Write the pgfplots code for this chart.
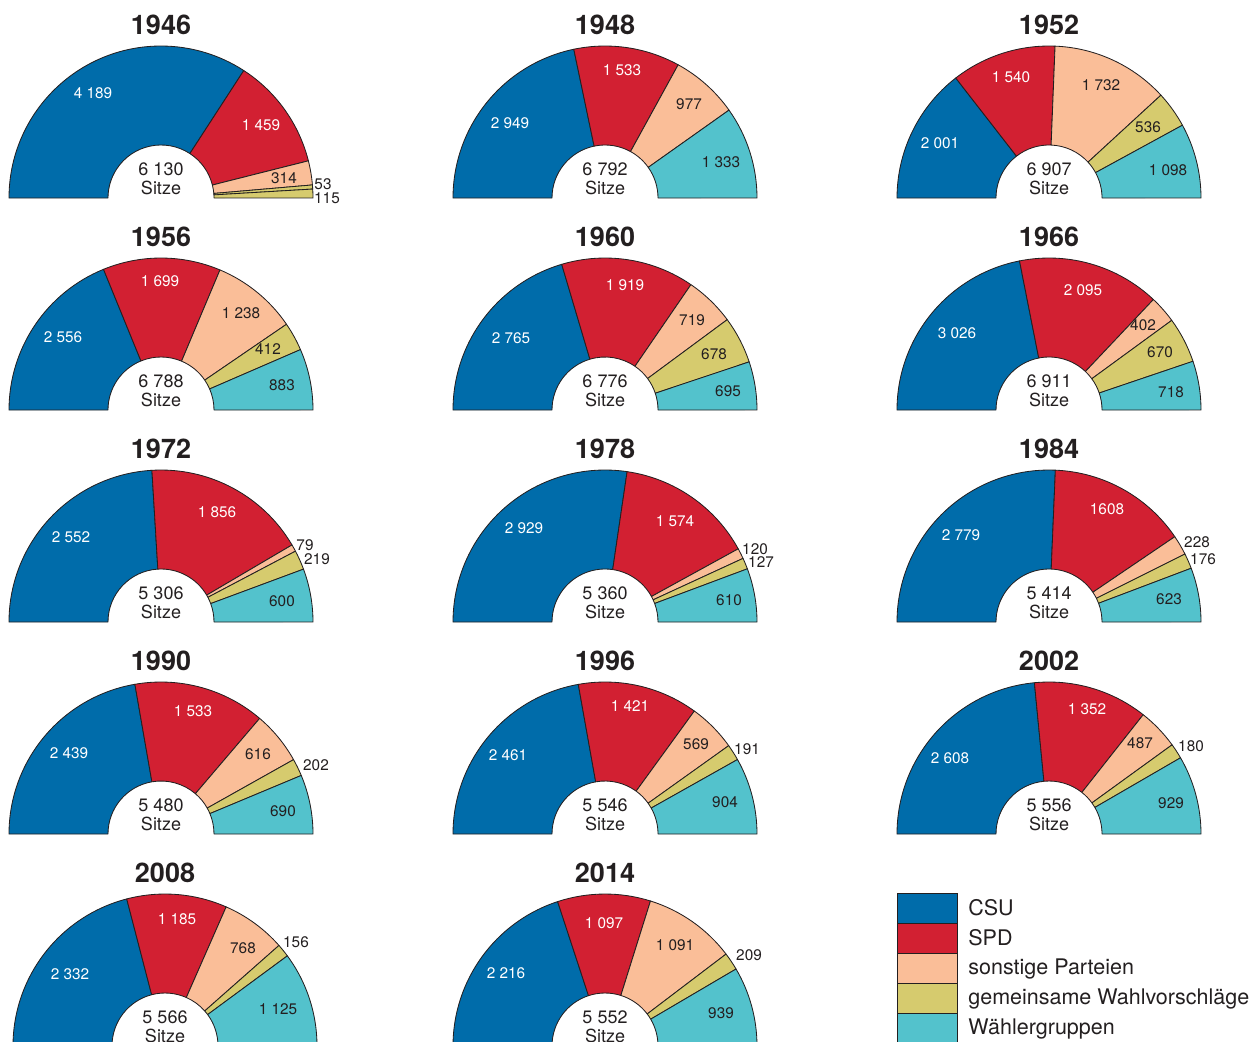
\documentclass[border=0pt]{standalone}
\usepackage{pgfplots}
\pgfplotsset{compat=1.18}
\usepackage{fontspec}
\setmainfont{TeX Gyre Heros}
\definecolor{csu}{RGB}{0,108,170}
\definecolor{spd}{RGB}{210,32,50}
\definecolor{son}{RGB}{250,190,152}
\definecolor{gem}{RGB}{214,203,110}
\definecolor{wg}{RGB}{83,194,204}
\definecolor{edge}{RGB}{35,31,32}
\definecolor{ink}{RGB}{35,31,32}
\def\Ro{91.2pt}\def\Ri{31.8pt}\def\Rd{59.4pt}
\newcommand\startpie[4]{% cx, cy (pixels), year, total
  \gdef\pcx{#1}\gdef\pcy{#2}\gdef\ptot{#4}\gdef\pcum{180}%
}
\newcommand\piehead[4]{% cx, cy, year, total text
  \node[text=ink,font=\bfseries\fontsize{16.2}{18}\selectfont] at (axis cs:#1,\the\numexpr#2-173\relax) {#3};
  \node[text=ink,align=center,font=\fontsize{10.8}{11.4}\selectfont] at (axis cs:#1,\the\numexpr#2-19\relax) {#4\\Sitze};
}
\newcommand\seg[2]{% color, value
  \pgfmathsetmacro\aS{\pcum}%
  \pgfmathsetmacro\aE{\pcum-#2/\ptot*180}%
  \filldraw[fill=#1,draw=edge,line width=0.5pt,line join=round]
    (axis cs:\pcx,\pcy) ++(\aS:\Ro) arc[start angle=\aS,end angle=\aE,radius=\Ro]
    -- ++(\aE+180:\Rd) arc[start angle=\aE,end angle=\aS,radius=\Ri] -- cycle;
  \xdef\pcum{\aE}%
}
\newcommand\lab[4]{% x, y, colour, text
  \node[text=#3,font=\fontsize{9.2}{10}\selectfont,inner sep=0pt] at (axis cs:#1,#2) {#4};
}
\begin{document}
\begin{tikzpicture}
\begin{axis}[x=0.6pt,y=0.6pt,xmin=0,xmax=1256,ymin=0,ymax=1041,y dir=reverse,
  hide axis,enlargelimits=false,clip=false]
\coordinate (bl) at (axis cs:0,1041);
\coordinate (tr) at (axis cs:1256,0);
% ---------- 1946
\pgfplotsextra{\startpie{161}{198}{1946}{6130}
 \seg{csu}{4189}\seg{spd}{1459}\seg{son}{314}\seg{gem}{53}\seg{gem}{115}
 \piehead{161}{198}{1946}{6 130}
 \lab{93}{93}{white}{4 189}\lab{261}{125}{white}{1 459}\lab{284}{178}{ink}{314}
 \lab{323}{184}{ink}{53}\lab{327}{198}{ink}{115}}
% ---------- 1948
\pgfplotsextra{\startpie{605}{198}{1948}{6792}
 \seg{csu}{2949}\seg{spd}{1533}\seg{son}{977}\seg{wg}{1333}
 \piehead{605}{198}{1948}{6 792}
 \lab{510}{123}{white}{2 949}\lab{622}{70}{white}{1 533}\lab{689}{104}{ink}{977}
 \lab{721}{162}{ink}{1 333}}
% ---------- 1952
\pgfplotsextra{\startpie{1049}{198}{1952}{6907}
 \seg{csu}{2001}\seg{spd}{1540}\seg{son}{1732}\seg{gem}{536}\seg{wg}{1098}
 \piehead{1049}{198}{1952}{6 907}
 \lab{940}{143}{white}{2 001}\lab{1011}{77}{white}{1 540}\lab{1101}{85}{ink}{1 732}
 \lab{1148}{127}{ink}{536}\lab{1168}{170}{ink}{1 098}}
% ---------- 1956
\pgfplotsextra{\startpie{161}{410}{1956}{6788}
 \seg{csu}{2556}\seg{spd}{1699}\seg{son}{1238}\seg{gem}{412}\seg{wg}{883}
 \piehead{161}{410}{1956}{6 788}
 \lab{63}{337}{white}{2 556}\lab{160}{281}{white}{1 699}\lab{241}{313}{ink}{1 238}
 \lab{268}{349}{ink}{412}\lab{282}{385}{ink}{883}}
% ---------- 1960
\pgfplotsextra{\startpie{605}{410}{1960}{6776}
 \seg{csu}{2765}\seg{spd}{1919}\seg{son}{719}\seg{gem}{678}\seg{wg}{695}
 \piehead{605}{410}{1960}{6 776}
 \lab{511}{338}{white}{2 765}\lab{625}{285}{white}{1 919}\lab{692}{320}{ink}{719}
 \lab{714}{354}{ink}{678}\lab{728}{391}{ink}{695}}
% ---------- 1966
\pgfplotsextra{\startpie{1049}{410}{1966}{6911}
 \seg{csu}{3026}\seg{spd}{2095}\seg{son}{402}\seg{gem}{670}\seg{wg}{718}
 \piehead{1049}{410}{1966}{6 911}
 \lab{957}{333}{white}{3 026}\lab{1083}{290}{white}{2 095}\lab{1143}{325}{ink}{402}
 \lab{1160}{352}{ink}{670}\lab{1171}{392}{ink}{718}}
% ---------- 1972
\pgfplotsextra{\startpie{161}{622}{1972}{5306}
 \seg{csu}{2552}\seg{spd}{1856}\seg{son}{79}\seg{gem}{219}\seg{wg}{600}
 \piehead{161}{622}{1972}{5 306}
 \lab{71}{537}{white}{2 552}\lab{217}{512}{white}{1 856}\lab{305}{545}{ink}{79}
 \lab{317}{559}{ink}{219}\lab{282}{601}{ink}{600}}
% ---------- 1978
\pgfplotsextra{\startpie{605}{622}{1978}{5360}
 \seg{csu}{2929}\seg{spd}{1574}\seg{son}{120}\seg{gem}{127}\seg{wg}{610}
 \piehead{605}{622}{1978}{5 360}
 \lab{524}{528}{white}{2 929}\lab{675}{521}{white}{1 574}\lab{755}{549}{ink}{120}
 \lab{761}{562}{ink}{127}\lab{729}{600}{ink}{610}}
% ---------- 1984
\pgfplotsextra{\startpie{1049}{622}{1984}{5414}
 \seg{csu}{2779}\seg{spd}{1608}\seg{son}{228}\seg{gem}{176}\seg{wg}{623}
 \piehead{1049}{622}{1984}{5 414}
 \lab{961}{535}{white}{2 779}\lab{1107}{509}{white}{1608}\lab{1197}{542}{ink}{228}
 \lab{1203}{559}{ink}{176}\lab{1169}{599}{ink}{623}}
% ---------- 1990
\pgfplotsextra{\startpie{161}{834}{1990}{5480}
 \seg{csu}{2439}\seg{spd}{1533}\seg{son}{616}\seg{gem}{202}\seg{wg}{690}
 \piehead{161}{834}{1990}{5 480}
 \lab{69}{753}{white}{2 439}\lab{193}{711}{white}{1 533}\lab{258}{754}{ink}{616}
 \lab{316}{765}{ink}{202}\lab{283}{811}{ink}{690}}
% ---------- 1996
\pgfplotsextra{\startpie{605}{834}{1996}{5546}
 \seg{csu}{2461}\seg{spd}{1421}\seg{son}{569}\seg{gem}{191}\seg{wg}{904}
 \piehead{605}{834}{1996}{5 546}
 \lab{508}{755}{white}{2 461}\lab{630}{706}{white}{1 421}\lab{696}{744}{ink}{569}
 \lab{747}{749}{ink}{191}\lab{725}{802}{ink}{904}}
% ---------- 2002
\pgfplotsextra{\startpie{1049}{834}{2002}{5556}
 \seg{csu}{2608}\seg{spd}{1352}\seg{son}{487}\seg{gem}{180}\seg{wg}{929}
 \piehead{1049}{834}{2002}{5 556}
 \lab{950}{758}{white}{2 608}\lab{1087}{709}{white}{1 352}\lab{1140}{743}{ink}{487}
 \lab{1191}{746}{ink}{180}\lab{1171}{803}{ink}{929}}
% ---------- 2008
\pgfplotsextra{\startpie{165}{1046}{2008}{5566}
 \seg{csu}{2332}\seg{spd}{1185}\seg{son}{768}\seg{gem}{156}\seg{wg}{1125}
 \piehead{165}{1046}{2008}{5 566}
 \lab{70}{974}{white}{2 332}\lab{177}{919}{white}{1 185}\lab{243}{948}{ink}{768}
 \lab{296}{942}{ink}{156}\lab{278}{1009}{ink}{1 125}}
% ---------- 2014
\pgfplotsextra{\startpie{605}{1046}{2014}{5552}
 \seg{csu}{2216}\seg{spd}{1097}\seg{son}{1091}\seg{gem}{209}\seg{wg}{939}
 \piehead{605}{1046}{2014}{5 552}
 \lab{506}{973}{white}{2 216}\lab{604}{923}{white}{1 097}\lab{675}{945}{ink}{1 091}
 \lab{749}{955}{ink}{209}\lab{721}{1013}{ink}{939}}
% ---------- legend
\pgfplotsextra{
 \filldraw[fill=csu,draw=edge,line width=0.5pt] (axis cs:897,893) rectangle (axis cs:957,923);
 \filldraw[fill=spd,draw=edge,line width=0.5pt] (axis cs:897,923) rectangle (axis cs:957,953);
 \filldraw[fill=son,draw=edge,line width=0.5pt] (axis cs:897,953) rectangle (axis cs:957,983);
 \filldraw[fill=gem,draw=edge,line width=0.5pt] (axis cs:897,983) rectangle (axis cs:957,1013);
 \filldraw[fill=wg,draw=edge,line width=0.5pt] (axis cs:897,1013) rectangle (axis cs:957,1050);
 \node[anchor=west,text=ink,inner sep=0pt,font=\fontsize{12.9}{14}\selectfont] at (axis cs:968,908) {CSU};
 \node[anchor=west,text=ink,inner sep=0pt,font=\fontsize{12.9}{14}\selectfont] at (axis cs:968,938) {SPD};
 \node[anchor=west,text=ink,inner sep=0pt,font=\fontsize{12.9}{14}\selectfont] at (axis cs:968,969) {sonstige Parteien};
 \node[anchor=west,text=ink,inner sep=0pt,font=\fontsize{12.9}{14}\selectfont] at (axis cs:968,999) {gemeinsame Wahlvorschläge};
 \node[anchor=west,text=ink,inner sep=0pt,font=\fontsize{12.9}{14}\selectfont] at (axis cs:968,1029) {Wählergruppen};
}
\end{axis}
\pgfresetboundingbox
\path[use as bounding box] (bl) rectangle (tr);
\end{tikzpicture}
\end{document}
